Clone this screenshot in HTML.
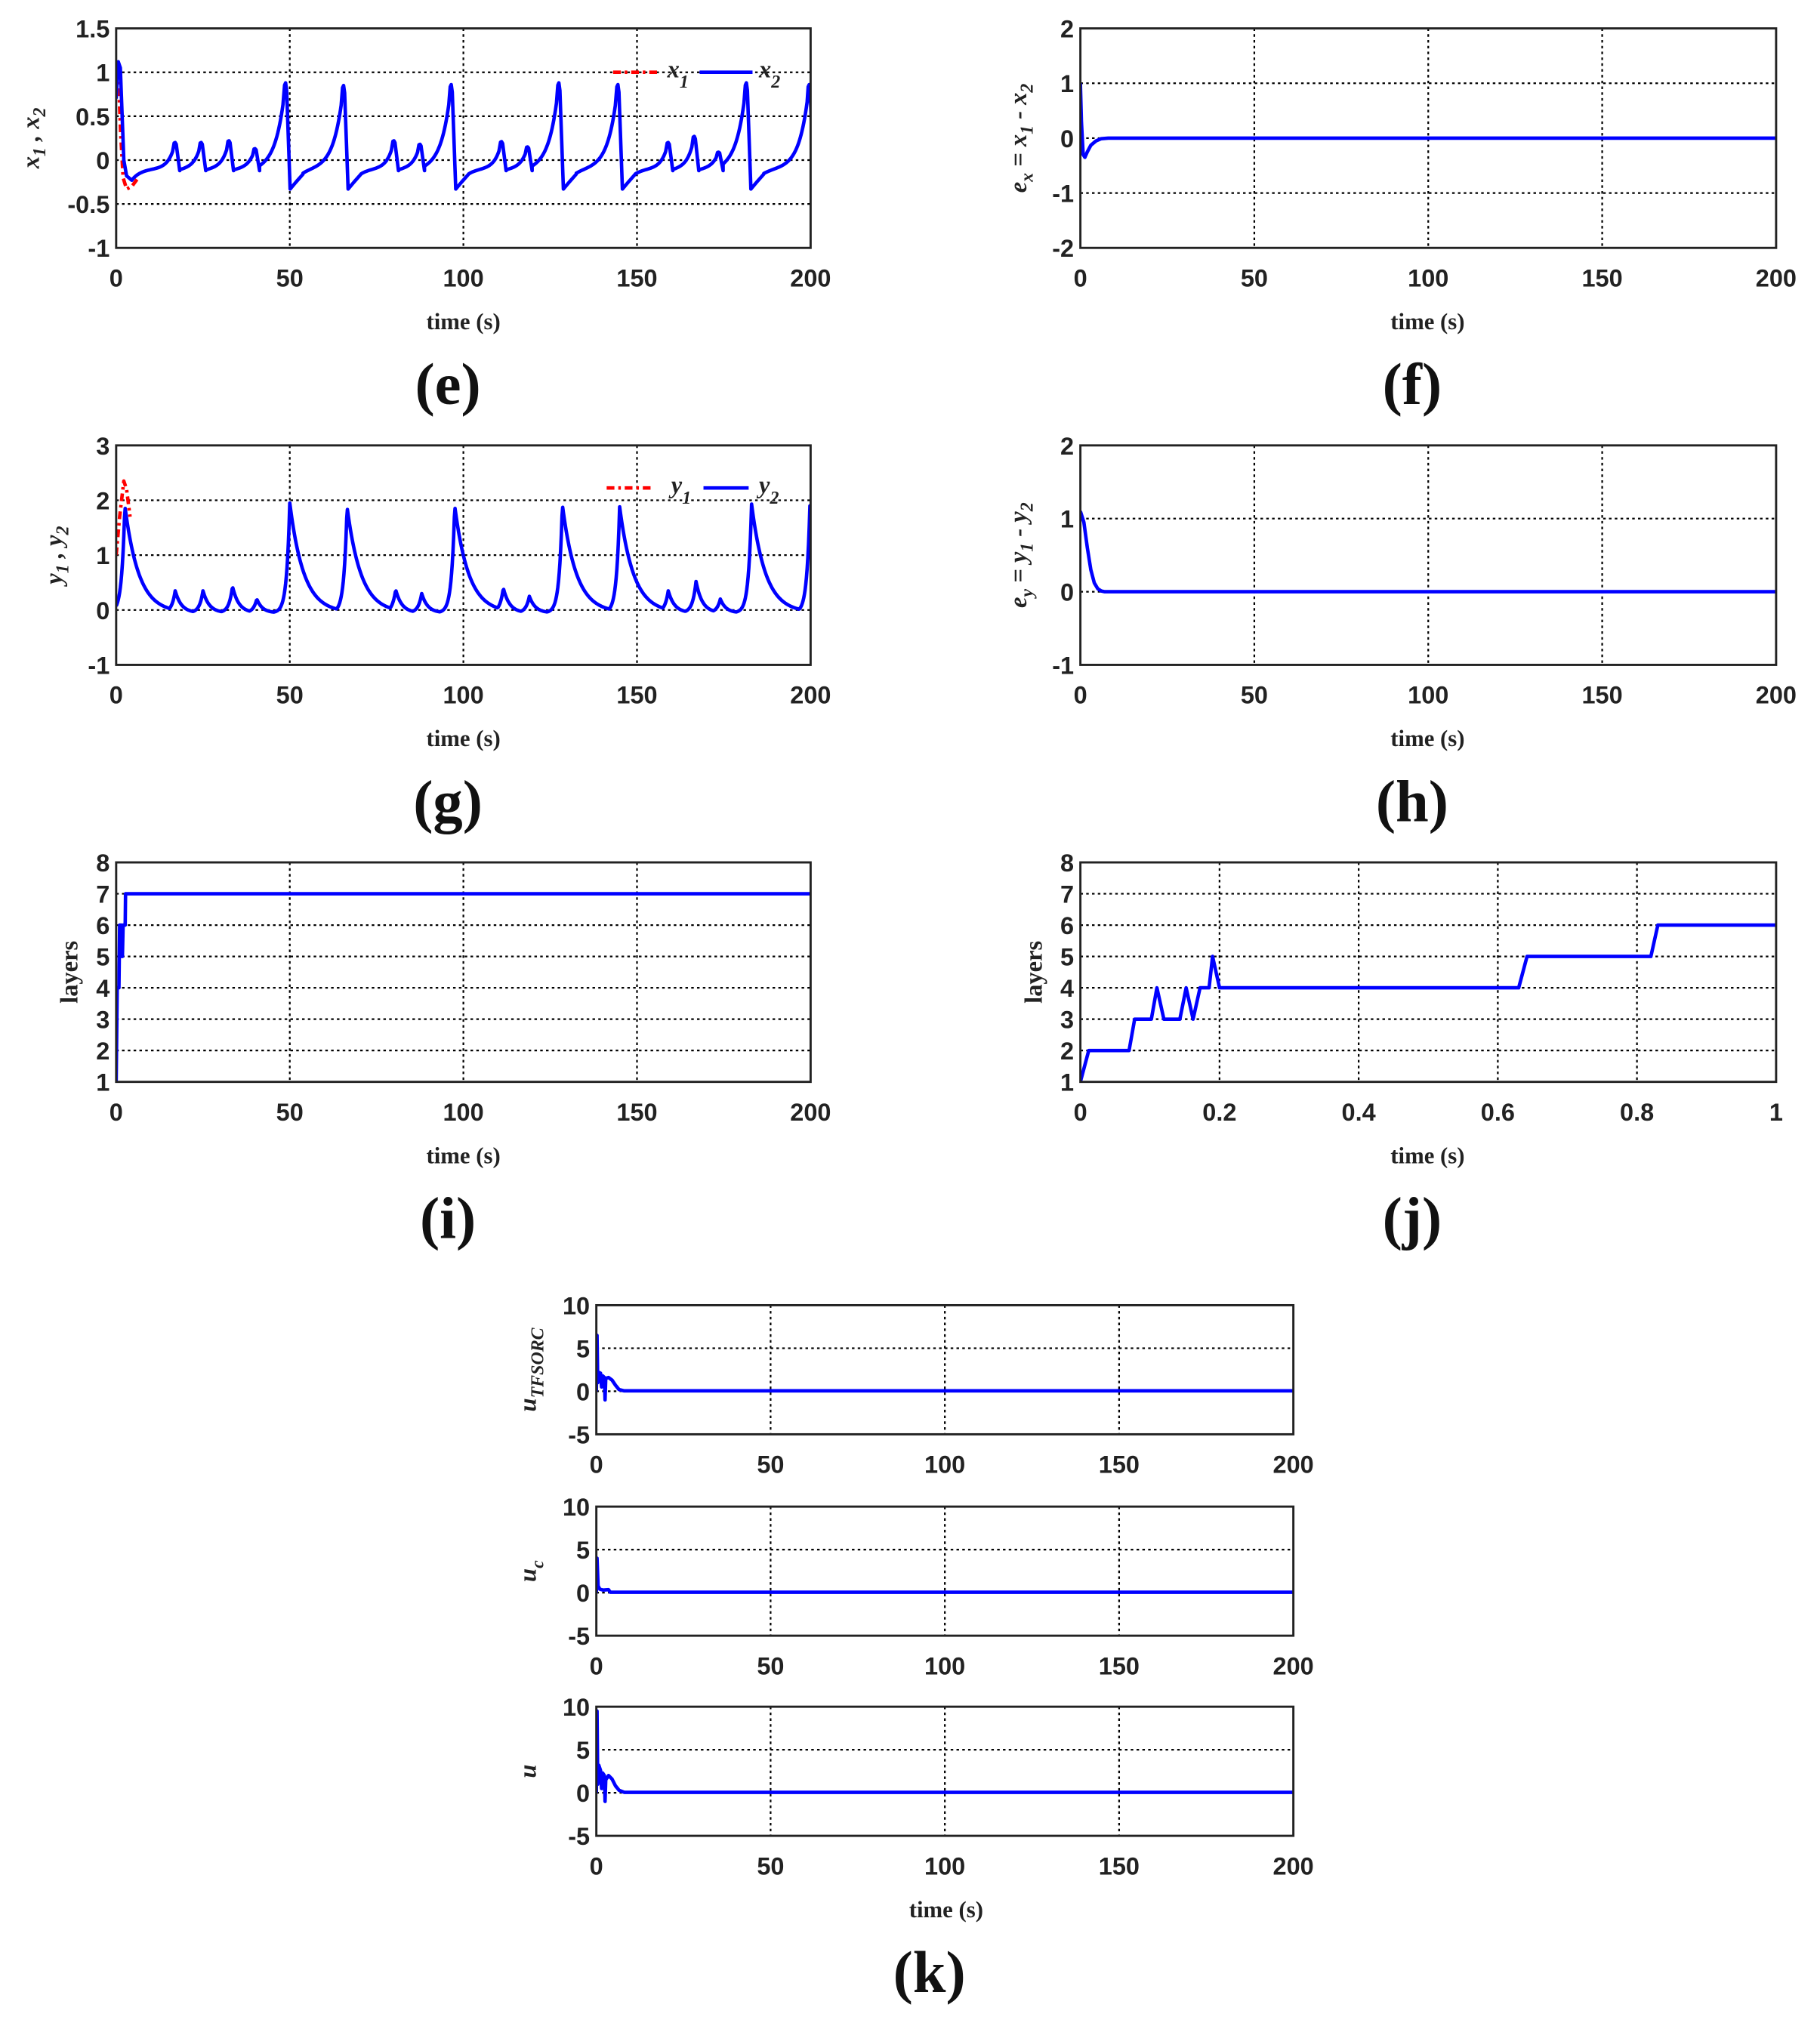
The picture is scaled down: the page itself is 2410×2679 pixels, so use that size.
<!DOCTYPE html>
<html><head><meta charset="utf-8">
<style>html,body{margin:0;padding:0;background:#fff}svg{display:block}</style>
</head><body>
<svg id="s" xmlns="http://www.w3.org/2000/svg" width="2410" height="2679" viewBox="0 0 1410 1567" preserveAspectRatio="none"></svg>
<script>
const S=document.getElementById('s');let out='';
function add(s){out+=s;}
function plot(o){
 const {x0,y0,w,h,xmin,xmax,ymin,ymax,xt,yt,xl,yl,series}=o;
 const X=t=>x0+(t-xmin)/(xmax-xmin)*w, Y=v=>y0+h-(v-ymin)/(ymax-ymin)*h;
 add(`<rect x="${x0}" y="${y0}" width="${w}" height="${h}" fill="#fff"/>`);
 xt.forEach(t=>{if(t>xmin&&t<xmax)add(`<line x1="${X(t)}" y1="${y0}" x2="${X(t)}" y2="${y0+h}" stroke="#000" stroke-width="1.3" stroke-dasharray="2,2.5"/>`);});
 yt.forEach(v=>{if(v>ymin&&v<ymax)add(`<line x1="${x0}" y1="${Y(v)}" x2="${x0+w}" y2="${Y(v)}" stroke="#000" stroke-width="1.3" stroke-dasharray="2,2.5"/>`);});
 add(`<svg x="${x0}" y="${y0-8}" width="${w}" height="${h+16}" overflow="hidden"><g transform="translate(${-x0},${-(y0-8)})">`);
 series.forEach(s=>{let d='';s.pts.forEach((p,i)=>{d+=(i?'L':'M')+X(p[0]).toFixed(2)+','+Y(p[1]).toFixed(2);});
  add(`<path d="${d}" fill="none" stroke="${s.c}" stroke-width="${s.w||2.7}" ${s.dash?'stroke-dasharray="'+s.dash+'"':''} stroke-linejoin="round"/>`);});
 add(`</g></svg>`);
 add(`<rect x="${x0}" y="${y0}" width="${w}" height="${h}" fill="none" stroke="#222" stroke-width="1.7"/>`);
 xt.forEach(t=>add(`<text x="${X(t)}" y="${y0+h+30}" text-anchor="middle" font-family="Liberation Sans,sans-serif" font-size="19" font-weight="bold" fill="#222">${xl?xl(t):t}</text>`));
 yt.forEach(v=>add(`<text x="${x0-5}" y="${Y(v)+7}" text-anchor="end" font-family="Liberation Sans,sans-serif" font-size="19" font-weight="bold" fill="#222">${v}</text>`));
}
function ylab(x,y,html){add(`<text transform="translate(${x},${y}) rotate(-90)" text-anchor="middle" font-family="Liberation Serif,serif" font-size="19" font-weight="bold" font-style="italic" fill="#222">${html}</text>`);}
function xlab(x,y){add(`<text x="${x}" y="${y}" text-anchor="middle" font-family="Liberation Serif,serif" font-size="18" font-weight="bold" fill="#222">time (s)</text>`);}
function cap(x,y,t){add(`<text x="${x}" y="${y}" text-anchor="middle" font-family="Liberation Serif,serif" font-size="46" font-weight="bold" fill="#111">(${t})</text>`);}
const ev=[[17,0.2,0],[24.5,0.2,0],[32.5,0.22,0],[40,0.13,0],[48.8,0.88,1],[65.5,0.85,1],[80,0.22,0],[87.5,0.18,0],[96.5,0.86,1],[111,0.21,0],[118.5,0.15,0],[127.5,0.88,1],[144.5,0.86,1],[159,0.2,0],[166.5,0.27,0],[173.5,0.09,0],[181.5,0.88,1],[199.6,0.86,1]];
function xsig(){let p=[[0,0.7],[0.6,1.12],[1.2,1.05],[2.2,0.0],[3,-0.18],[4.5,-0.23]];let te=4.5,ve=-0.23;
 ev.forEach(e=>{const [tp,A,big]=e;const tau=big?2.6:1.8;for(let t=te;t<=tp-0.6;t+=0.25){let base=ve+(-0.1-ve)*(1-Math.exp(-(t-te)/(big?3:2.5)));let r=base+(A-base)*Math.exp(-(tp-t)/tau);p.push([t,r]);}
 p.push([tp-0.3,A*0.97]);p.push([tp,A]);p.push([tp+0.3,A*0.9]);const mn=big?-0.33:-0.12;const td=tp+(big?1.3:1.3);p.push([td,mn]);
 if(big){p.push([tp+3,-0.25]);p.push([tp+5,-0.16]);te=tp+5;ve=-0.16}else{te=td;ve=mn}});
 p.push([200,-0.12]);return p;}
const xs=xsig();
const xs1=[[0,1.0],[0.6,1.0],[1.3,0.3],[2,-0.2],[3,-0.33],[4.5,-0.3],[6,-0.22]];
const yev=[[2.5,1.9,4],[17,0.35,1.8],[25,0.35,1.8],[33.5,0.43,1.8],[40.5,0.2,1.6],[50,1.95,4],[66.5,1.88,4],[80.5,0.37,1.8],[88,0.3,1.7],[97.5,1.9,4],[111.5,0.4,1.8],[119,0.25,1.7],[128.5,1.92,4],[145,1.88,4],[159,0.35,1.8],[167,0.52,1.8],[174,0.2,1.6],[183,1.93,4],[199.8,1.9,4]];
function ysig(){let p=[];for(let t=0;t<=200;t+=0.2){let v=-0.05;let best=0;yev.forEach(e=>{const[tp,A,tau]=e;let c;if(t<tp)c=(A+0.05)*Math.exp((t-tp)/(tau>3?0.9:1.0));else c=(A+0.05)*Math.exp(-(t-tp)/tau);if(c>best)best=c;});p.push([t,v+best]);}return p;}
const ys=ysig();
const ys1=[[0,1.0],[1,1.7],[2.2,2.35],[3,2.2],[4,1.7]];
plot({x0:90,y0:22,w:538,h:170,xmin:0,xmax:200,ymin:-1,ymax:1.5,xt:[0,50,100,150,200],yt:[1.5,1,0.5,0,-0.5,-1],series:[{pts:xs1,c:'#f00',dash:'6,3,2,3'},{pts:xs,c:'#00f'}]});
ylab(30,107,'x<tspan font-size="14" dy="5">1</tspan><tspan dy="-5"> , x</tspan><tspan font-size="14" dy="5">2</tspan>');
add(`<line x1="475" y1="56" x2="510" y2="56" stroke="#f00" stroke-width="2.7" stroke-dasharray="6,3,2,3"/><line x1="542" y1="56" x2="583" y2="56" stroke="#00f" stroke-width="2.7"/>`);
add(`<text x="517" y="60" font-family="Liberation Serif,serif" font-size="19" font-style="italic" font-weight="bold" fill="#222">x<tspan font-size="14" dy="8">1</tspan></text><text x="588" y="60" font-family="Liberation Serif,serif" font-size="19" font-style="italic" font-weight="bold" fill="#222">x<tspan font-size="14" dy="8">2</tspan></text>`);
xlab(359,255);cap(347,313,'e');
plot({x0:837,y0:22,w:539,h:170,xmin:0,xmax:200,ymin:-2,ymax:2,xt:[0,50,100,150,200],yt:[2,1,0,-1,-2],series:[{pts:[[0,1],[0.3,0.3],[0.8,-0.3],[1.3,-0.35],[2,-0.25],[3,-0.13],[4.5,-0.05],[6,-0.01],[8,0],[200,0]],c:'#00f'}]});
ylab(795,107,'e<tspan font-size="14" dy="5">x</tspan><tspan dy="-5"> = x</tspan><tspan font-size="14" dy="5">1</tspan><tspan dy="-5"> - x</tspan><tspan font-size="14" dy="5">2</tspan>');
xlab(1106,255);cap(1094,313,'f');
plot({x0:90,y0:345,w:538,h:170,xmin:0,xmax:200,ymin:-1,ymax:3,xt:[0,50,100,150,200],yt:[3,2,1,0,-1],series:[{pts:ys1,c:'#f00',dash:'6,3,2,3'},{pts:ys,c:'#00f'}]});
ylab(48,430,'y<tspan font-size="14" dy="5">1</tspan><tspan dy="-5"> , y</tspan><tspan font-size="14" dy="5">2</tspan>');
add(`<line x1="470" y1="378" x2="507" y2="378" stroke="#f00" stroke-width="2.7" stroke-dasharray="6,3,2,3"/><line x1="545" y1="378" x2="580" y2="378" stroke="#00f" stroke-width="2.7"/>`);
add(`<text x="520" y="382" font-family="Liberation Serif,serif" font-size="19" font-style="italic" font-weight="bold" fill="#222">y<tspan font-size="14" dy="8">1</tspan></text><text x="588" y="382" font-family="Liberation Serif,serif" font-size="19" font-style="italic" font-weight="bold" fill="#222">y<tspan font-size="14" dy="8">2</tspan></text>`);
xlab(359,578);cap(347,636,'g');
plot({x0:837,y0:345,w:539,h:170,xmin:0,xmax:200,ymin:-1,ymax:2,xt:[0,50,100,150,200],yt:[2,1,0,-1],series:[{pts:[[0,1.1],[1,0.95],[2,0.6],[3,0.3],[4,0.12],[5,0.04],[6,0.01],[7,0],[200,0]],c:'#00f'}]});
ylab(795,430,'e<tspan font-size="14" dy="5">y</tspan><tspan dy="-5"> = y</tspan><tspan font-size="14" dy="5">1</tspan><tspan dy="-5"> - y</tspan><tspan font-size="14" dy="5">2</tspan>');
xlab(1106,578);cap(1094,636,'h');
plot({x0:90,y0:668,w:538,h:170,xmin:0,xmax:200,ymin:1,ymax:8,xt:[0,50,100,150,200],yt:[8,7,6,5,4,3,2,1],series:[{pts:[[0,1],[0.3,4],[0.8,4],[1,6],[1.5,6],[1.6,5],[1.8,5],[2,6],[2.6,6],[2.7,7],[200,7]],c:'#00f'}]});
add(`<text transform="translate(60,753) rotate(-90)" text-anchor="middle" font-family="Liberation Serif,serif" font-size="19" font-weight="bold" fill="#222">layers</text>`);
xlab(359,901);cap(347,959,'i');
plot({x0:837,y0:668,w:539,h:170,xmin:0,xmax:1,ymin:1,ymax:8,xt:[0,0.2,0.4,0.6,0.8,1],yt:[8,7,6,5,4,3,2,1],series:[{pts:[[0,1],[0.012,2],[0.07,2],[0.078,3],[0.102,3],[0.11,4],[0.12,3],[0.143,3],[0.152,4],[0.162,3],[0.172,4],[0.185,4],[0.19,5],[0.2,4],[0.63,4],[0.642,5],[0.82,5],[0.83,6],[1,6]],c:'#00f'}]});
add(`<text transform="translate(807,753) rotate(-90)" text-anchor="middle" font-family="Liberation Serif,serif" font-size="19" font-weight="bold" fill="#222">layers</text>`);
xlab(1106,901);cap(1094,959,'j');
const k1=[[0,0],[0.2,6.5],[0.4,1],[0.7,2.2],[1.2,2.1],[1.5,0.5],[1.8,1.8],[2.3,1.6],[2.5,-1],[2.7,1.5],[3.5,1.6],[4.5,1.3],[5.5,0.7],[6.5,0.2],[8,0.05],[200,0.05]];
const k2=[[0,0],[0.2,4],[0.5,0.8],[1,0.4],[2,0.3],[3.5,0.35],[4,0.05],[200,0.05]];
const k3=[[0,0],[0.2,9.5],[0.4,1],[0.7,3.2],[1.2,2.6],[1.5,0.5],[1.8,2.3],[2.3,2],[2.5,-1],[2.7,1.5],[3.5,2],[4.5,1.6],[5.5,0.8],[6.5,0.3],[8,0.05],[200,0.05]];
const kc={xmin:0,xmax:200,ymin:-5,ymax:10,xt:[0,50,100,150,200],yt:[10,5,0,-5]};
plot(Object.assign({x0:462,y0:1011,w:540,h:100,series:[{pts:k1,c:'#00f'}]},kc));
plot(Object.assign({x0:462,y0:1167,w:540,h:100,series:[{pts:k2,c:'#00f'}]},kc));
plot(Object.assign({x0:462,y0:1322,w:540,h:100,series:[{pts:k3,c:'#00f'}]},kc));
ylab(415,1061,'u<tspan font-size="14" dy="6">TFSORC</tspan>');
ylab(415,1217,'u<tspan font-size="14" dy="6">c</tspan>');
ylab(415,1372,'u');
xlab(733,1485);cap(720,1543,'k');
S.innerHTML=out;
</script>
</body></html>
